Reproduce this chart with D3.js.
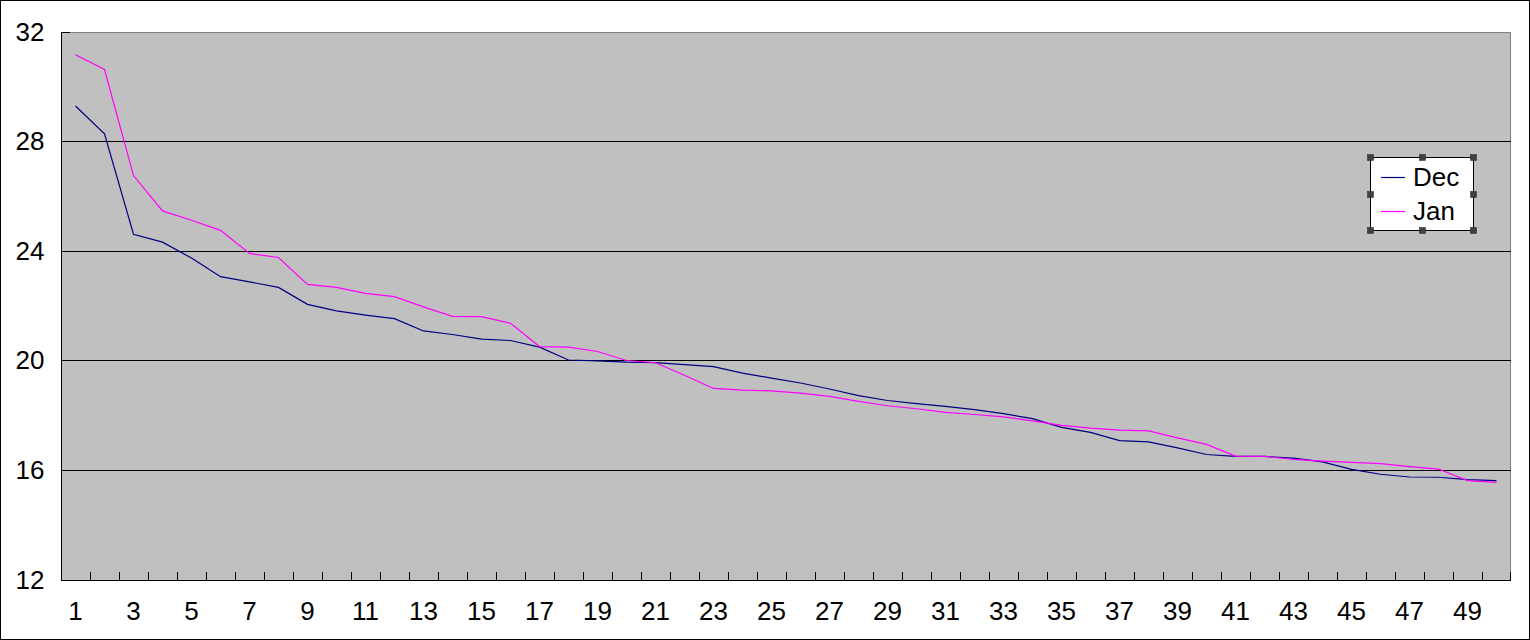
<!DOCTYPE html>
<html>
<head>
<meta charset="utf-8">
<script src="https://cdn.jsdelivr.net/npm/d3@7/dist/d3.min.js"></script>
<style>
  html, body { margin: 0; padding: 0; background: #ffffff; }
  svg { display: block; }
  text { font-family: "Liberation Sans", Arial, sans-serif; fill: #000; }
</style>
</head>
<body>
<svg id="chart" width="1530" height="640"></svg>
<script>
// ---- data ----
const categories = d3.range(1, 51);
const decValues = [29.30, 28.28, 24.62, 24.33, 23.75, 23.07, 22.88, 22.68, 22.06, 21.82,
                   21.67, 21.54, 21.09, 20.96, 20.79, 20.74, 20.50, 20.03, 20.00, 19.95,
                   19.93, 19.86, 19.79, 19.55, 19.37, 19.19, 18.97, 18.73, 18.55, 18.44,
                   18.34, 18.22, 18.07, 17.89, 17.57, 17.39, 17.09, 17.04, 16.82, 16.58,
                   16.51, 16.51, 16.45, 16.31, 16.04, 15.86, 15.76, 15.75, 15.66, 15.63];
const janValues = [31.17, 30.63, 26.76, 25.47, 25.13, 24.76, 23.92, 23.77, 22.79, 22.68,
                   22.46, 22.34, 21.97, 21.62, 21.61, 21.37, 20.52, 20.50, 20.34, 20.01,
                   19.93, 19.47, 18.99, 18.93, 18.90, 18.82, 18.70, 18.52, 18.36, 18.25,
                   18.12, 18.04, 17.95, 17.81, 17.64, 17.54, 17.47, 17.44, 17.19, 16.95,
                   16.52, 16.51, 16.40, 16.34, 16.29, 16.25, 16.14, 16.05, 15.63, 15.56];
const seriesNames = ["Dec", "Jan"];
const seriesColors = ["#000080", "#FF00FF"];
const yTicks = [12, 16, 20, 24, 28, 32];
const xTickLabels = categories.filter(d => d % 2 === 1);

// ---- layout ----
const W = 1530, H = 640;
const plot = { left: 61, right: 1511, top: 32, bottom: 580 };

const svg = d3.select("#chart");

// outer border
svg.append("rect").attr("x", 0.5).attr("y", 0.5).attr("width", W - 1).attr("height", H - 1)
  .attr("fill", "#fff").attr("stroke", "#000").attr("stroke-width", 1);

const x = d3.scaleBand().domain(categories).range([plot.left, plot.right]).padding(0);
const y = d3.scaleLinear().domain([12, 32]).range([plot.bottom, plot.top]);
const px = d => x(d) + x.bandwidth() / 2;
const crisp = v => Math.floor(v) + 0.5;

// plot area
svg.append("rect")
  .attr("x", plot.left).attr("y", plot.top)
  .attr("width", plot.right - plot.left).attr("height", plot.bottom - plot.top)
  .attr("fill", "#C0C0C0");

// plot border top/right (gray)
svg.append("path")
  .attr("d", `M${plot.left},${plot.top + 0.5}H${plot.right - 0.5}V${plot.bottom}`)
  .attr("fill", "none").attr("stroke", "#808080").attr("stroke-width", 1);

// gridlines
svg.append("g").selectAll("line")
  .data(yTicks.filter(t => t !== 12 && t !== 32))
  .join("line")
  .attr("x1", plot.left).attr("x2", plot.right)
  .attr("y1", d => crisp(y(d))).attr("y2", d => crisp(y(d)))
  .attr("stroke", "#000").attr("stroke-width", 1);

// y axis
const yAxis = d3.axisLeft(y).tickValues(yTicks).tickSize(0).tickPadding(0);
const yg = svg.append("g").attr("transform", `translate(${plot.left + 0.5},0)`).call(yAxis);
yg.select(".domain").remove();
yg.selectAll("text")
  .attr("x", -17).attr("dy", null).attr("y", 8)
  .style("font-size", "26px").style("font-family", '"Liberation Sans", Arial, sans-serif')
  .attr("fill", "#000");
// y ticks inward
svg.append("g").selectAll("line").data(yTicks).join("line")
  .attr("x1", plot.left).attr("x2", plot.left + 9)
  .attr("y1", d => crisp(y(d))).attr("y2", d => crisp(y(d)))
  .attr("stroke", "#000");
svg.append("line")
  .attr("x1", plot.left + 0.5).attr("x2", plot.left + 0.5)
  .attr("y1", plot.top).attr("y2", plot.bottom + 1)
  .attr("stroke", "#000");

// x axis
const xAxis = d3.axisBottom(x).tickValues(xTickLabels).tickSize(0).tickPadding(0);
const xg = svg.append("g").attr("transform", `translate(0,${plot.bottom})`).call(xAxis);
xg.select(".domain").remove();
xg.selectAll("text")
  .attr("dy", null).attr("y", 40)
  .style("font-size", "26px").style("font-family", '"Liberation Sans", Arial, sans-serif')
  .attr("fill", "#000");
svg.append("line")
  .attr("x1", plot.left).attr("x2", plot.right)
  .attr("y1", plot.bottom + 0.5).attr("y2", plot.bottom + 0.5)
  .attr("stroke", "#000");
// x ticks at category boundaries, inward
svg.append("g").selectAll("line").data(categories.slice(1).concat([null])).join("line")
  .attr("x1", d => d === null ? plot.right - 0.5 : Math.round(x(d)) + 0.5)
  .attr("x2", d => d === null ? plot.right - 0.5 : Math.round(x(d)) + 0.5)
  .attr("y1", plot.bottom).attr("y2", plot.bottom - 8)
  .attr("stroke", "#000");

// series lines
const series = [decValues, janValues];
const line = d3.line().x((d, i) => px(categories[i])).y(d => y(d));
series.forEach((vals, k) => {
  svg.append("path")
    .datum(vals)
    .attr("d", line)
    .attr("fill", "none")
    .attr("stroke", seriesColors[k])
    .attr("stroke-width", 1.2);
});

// legend
const lg = { x: 1370, y: 157, w: 103, h: 73 };
const leg = svg.append("g");
leg.append("rect")
  .attr("x", lg.x + 0.5).attr("y", lg.y + 0.5).attr("width", lg.w).attr("height", lg.h)
  .attr("fill", "#fff").attr("stroke", "#000").attr("stroke-width", 1);
seriesNames.forEach((name, i) => {
  const ly = lg.y + 20 + i * 34;
  leg.append("line")
    .attr("x1", lg.x + 11).attr("x2", lg.x + 35)
    .attr("y1", ly + 0.5).attr("y2", ly + 0.5)
    .attr("stroke", seriesColors[i]).attr("stroke-width", 1.2);
  leg.append("text")
    .attr("x", lg.x + 43).attr("y", ly + 9)
    .style("font-size", "26px")
    .text(name);
});
// selection handles
const hx = [lg.x, lg.x + lg.w / 2, lg.x + lg.w];
const hy = [lg.y, lg.y + lg.h / 2, lg.y + lg.h];
const handles = [];
hx.forEach((a, i) => hy.forEach((b, j) => { if (!(i === 1 && j === 1)) handles.push([a, b]); }));
leg.selectAll("rect.h").data(handles).join("rect")
  .attr("class", "h")
  .attr("x", d => Math.round(d[0]) - 2.5).attr("y", d => Math.round(d[1]) - 2.5)
  .attr("width", 6).attr("height", 6)
  .attr("fill", "#404040").attr("stroke", "#202020").attr("stroke-width", 0.5);
</script>
</body>
</html>
